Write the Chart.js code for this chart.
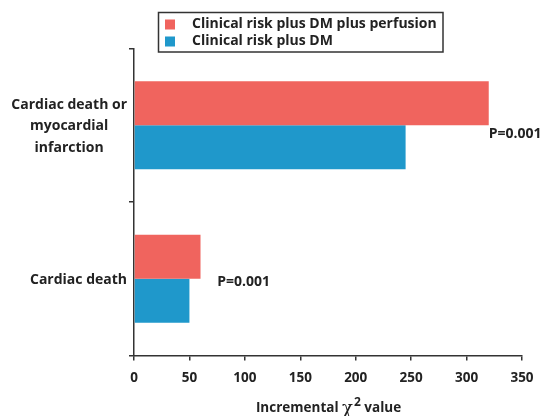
<!DOCTYPE html>
<html>
<head>
<meta charset="utf-8">
<script src="https://cdn.jsdelivr.net/npm/chart.js@4"></script>
<style>
  html, body { margin: 0; padding: 0; background: #fff; }
  #wrap { width: 544px; height: 416px; }
</style>
</head>
<body>
<div id="wrap"><canvas id="chiChart"></canvas></div>
<script>
const categories = [
    ['Cardiac death or', 'myocardial', 'infarction'],
    ['Cardiac death']
];
const seriesNames = ['Clinical risk plus DM plus perfusion', 'Clinical risk plus DM'];
const withPerfusion = [320, 60];
const withoutPerfusion = [245, 50];
const xTicks = [0, 50, 100, 150, 200, 250, 300, 350];
const pLabels = ['P=0.001', 'P=0.001'];
const pLabelX = [320, 75];

const RED = '#f0645e';
const BLUE = '#1f98cb';
const INK = '#222';
const FONT = '"Open Sans", sans-serif';

const extras = {
    id: 'extras',
    afterDraw(chart) {
        const c = chart.ctx;
        const x = chart.scales.x;
        const y = chart.scales.y;
        c.save();

        // legend box
        c.strokeStyle = '#333';
        c.lineWidth = 1.5;
        c.strokeRect(158.5, 12.5, 284.5, 39.5);
        c.font = 'bold 14px ' + FONT;
        c.textBaseline = 'middle';
        c.textAlign = 'left';
        chart.data.datasets.forEach((ds, i) => {
            const cy = 24.5 + i * 17;
            c.fillStyle = ds.backgroundColor;
            c.fillRect(165, cy - 5, 10, 10);
            c.fillStyle = INK;
            c.fillText(ds.label, 192, cy - 0.5);
        });

        // category labels, each block centred on itself, right aligned to the axis
        categories.forEach((lines, i) => {
            const mid = y.getPixelForValue(i);
            const widest = Math.max(...lines.map(l => c.measureText(l).width));
            const cx = 127 - widest / 2;
            const lh = 21.5;
            c.textAlign = 'center';
            lines.forEach((l, k) => {
                c.fillText(l, cx, mid + 1 + (k - (lines.length - 1) / 2) * lh);
            });
        });

        // P values
        c.textAlign = 'left';
        pLabels.forEach((t, i) => {
            c.fillText(t, x.getPixelForValue(pLabelX[i]), y.getPixelForValue(i) + (i === 0 ? 9 : 3));
        });

        // axis title with chi squared
        const ty = 412;
        c.textBaseline = 'alphabetic';
        const a = 'Incremental ';
        const b = ' value';
        c.font = 'bold 13.5px ' + FONT;
        const wa = c.measureText(a).width;
        const wb = c.measureText(b).width;
        c.font = '18px "DejaVu Serif", serif';
        const wchi = c.measureText('\u03c7').width;
        c.font = 'bold 12px ' + FONT;
        const w2 = c.measureText('2').width;
        let sx = (x.left + x.right) / 2 - (wa + wchi + w2 + wb) / 2;
        c.fillStyle = INK;
        c.font = 'bold 13.5px ' + FONT;
        c.fillText(a, sx, ty);
        sx += wa;
        c.font = '18px "DejaVu Serif", serif';
        c.fillText('\u03c7', sx, ty + 2);
        sx += wchi;
        c.font = 'bold 12px ' + FONT;
        c.fillText('2', sx + 1, ty - 6);
        sx += w2 + 1;
        c.font = 'bold 13.5px ' + FONT;
        c.fillText(b, sx, ty);

        c.restore();
    }
};

new Chart(document.getElementById('chiChart'), {
    type: 'bar',
    data: {
        labels: categories,
        datasets: [
            {
                label: seriesNames[0],
                data: withPerfusion,
                backgroundColor: RED,
                barPercentage: 1,
                categoryPercentage: 0.574
            },
            {
                label: seriesNames[1],
                data: withoutPerfusion,
                backgroundColor: BLUE,
                barPercentage: 1,
                categoryPercentage: 0.574
            }
        ]
    },
    options: {
        indexAxis: 'y',
        responsive: true,
        maintainAspectRatio: false,
        animation: false,
        layout: { padding: { top: 48.5, right: 22, left: 0, bottom: 0 } },
        plugins: {
            legend: { display: false },
            tooltip: { enabled: false }
        },
        scales: {
            x: {
                min: 0,
                max: 350,
                afterBuildTicks: (s) => { s.ticks = xTicks.map(v => ({ value: v })); },
                afterFit: (s) => { s.height = 60.5; },
                border: { display: true, color: '#333', width: 1.5 },
                grid: { drawOnChartArea: false, drawTicks: true, tickLength: 5, color: '#333', lineWidth: 1.5 },
                ticks: {
                    color: INK,
                    padding: 10,
                    font: { family: FONT, size: 13.5, weight: 'bold' }
                }
            },
            y: {
                afterFit: (s) => { s.width = 134; },
                border: { display: true, color: '#333', width: 1.5 },
                grid: { drawOnChartArea: false, drawTicks: true, tickLength: 5, color: '#333', lineWidth: 1.5 },
                ticks: { display: false }
            }
        }
    },
    plugins: [extras]
});
</script>
</body>
</html>
